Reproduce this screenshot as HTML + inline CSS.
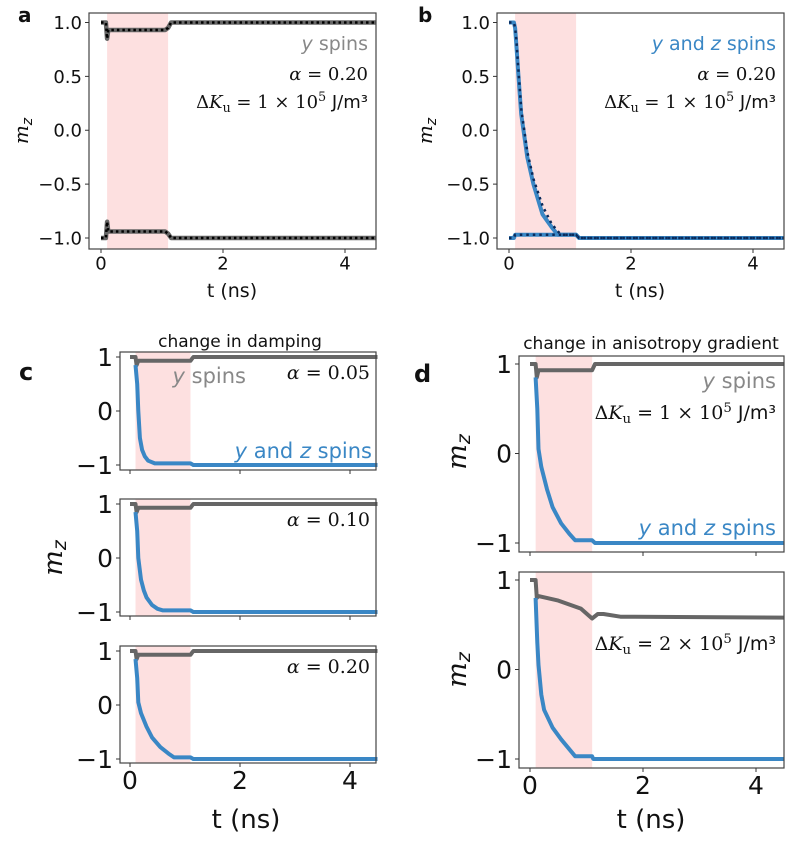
<!DOCTYPE html>
<html><head><meta charset="utf-8"><style>
body{margin:0;background:#fff;}
svg{display:block;}
text{font-family:"DejaVu Sans","Liberation Sans",sans-serif;}
.ser{font-family:"DejaVu Serif","Liberation Serif",serif;}
</style></head><body>
<svg id="fig" width="798" height="845" viewBox="0 0 798 845" xmlns="http://www.w3.org/2000/svg"></svg>
<script>
// ---- data ----
const tYTop = [0,0.08,0.1,0.12,0.15,1.05,1.1,1.15,4.5];
const mYTop = [1,1,0.85,0.93,0.93,0.93,0.95,1,1];
const tYBot = [0,0.08,0.1,0.12,0.15,1.05,1.1,1.15,4.5];
const mYBot = [-1,-1,-0.85,-0.94,-0.94,-0.94,-0.96,-1,-1];
const tBlueB = [0,0.08,0.1,0.12,0.15,0.2,0.3,0.4,0.55,0.7,0.8,1.1,1.15,4.5];
const mBlueB = [1,1,0.95,0.8,0.55,0.15,-0.25,-0.5,-0.78,-0.9,-0.97,-0.97,-1,-1];
const tDotB = [0,0.08,0.1,0.12,0.15,0.2,0.3,0.4,0.55,0.7,0.85,1.1,1.15,4.5];
const mDotB = [1,1,0.95,0.85,0.6,0.2,-0.2,-0.45,-0.7,-0.87,-0.97,-0.97,-1,-1];
const tLowB = [0,0.08,0.1,0.12,1.05,1.1,1.15,4.5];
const mLowB = [-1,-1,-0.97,-0.97,-0.97,-0.97,-1,-1];
const tGrayC = [0,0.1,0.12,0.15,1.05,1.1,1.15,4.5];
const mGrayC = [1,1,0.85,0.93,0.93,0.93,1,1];
const tBlue05 = [0.1,0.13,0.15,0.18,0.22,0.27,0.33,0.45,0.6,1.1,1.15,4.5];
const mBlue05 = [0.85,0.5,0,-0.5,-0.72,-0.84,-0.92,-0.97,-0.97,-0.97,-1,-1];
const tBlue10 = [0.1,0.13,0.15,0.2,0.25,0.3,0.4,0.5,0.6,1.1,1.15,4.5];
const mBlue10 = [0.85,0.5,0,-0.4,-0.6,-0.73,-0.87,-0.94,-0.97,-0.97,-1,-1];
const tBlue20 = [0.1,0.13,0.15,0.2,0.3,0.4,0.55,0.7,0.8,1.1,1.15,4.5];
const mBlue20 = [0.85,0.5,0.05,-0.15,-0.4,-0.6,-0.78,-0.9,-0.97,-0.97,-1,-1];
const tGrayD2 = [0,0.1,0.12,0.15,0.5,0.9,1.1,1.2,1.3,1.6,4.5];
const mGrayD2 = [1,1,0.8,0.82,0.77,0.68,0.57,0.62,0.62,0.59,0.58];
const tBlueD2 = [0.1,0.13,0.15,0.2,0.25,0.4,0.55,0.8,1.1,1.12,4.5];
const mBlueD2 = [0.8,0.3,0.05,-0.28,-0.45,-0.65,-0.78,-0.97,-0.97,-1,-1];
const ticksAB = [1.0,0.5,0.0,-0.5,-1.0];
const tickLabAB = ["1.0","0.5","0.0","\u22120.5","\u22121.0"];
const ticksCD = [1,0,-1];
const tickLabCD = ["1","0","\u22121"];
const xTicks = [0,2,4];

const NS="http://www.w3.org/2000/svg";
const svg=document.getElementById('fig');
function el(tag,attrs,parent){const e=document.createElementNS(NS,tag);for(const k in attrs)e.setAttribute(k,attrs[k]);(parent||svg).appendChild(e);return e;}
function txt(s,attrs,parent){const e=el('text',attrs,parent);e.textContent=s;return e;}

function makeAxes(name,box,x0px,x2px,y1px,ym1px){
  const g=el('g',{});
  
  
  const sx=(x2px-x0px)/2;
  const X=t=>x0px+t*sx;
  const Y=m=>(y1px+ym1px)/2-(m)*(ym1px-y1px)/2;
  return {g,box,X,Y};
}
function shade(ax){
  const r=el('rect',{x:ax.X(0.1),y:ax.box[1],width:ax.X(1.1)-ax.X(0.1),height:ax.box[3]-ax.box[1],fill:'#fde0e0'},ax.g);
  
  
}
function line(ax,ts,ms,style,name){
  const d=ts.map((t,i)=>(i?'L':'M')+ax.X(t).toFixed(1)+','+ax.Y(ms[i]).toFixed(1)).join(' ');
  const p=el('path',Object.assign({d:d,fill:'none','stroke-linejoin':'round'},style),ax.g);
  
  
}
function frame(ax,yt,yl,fs,showXLab,xfs){
  const [l,t,r,b]=ax.box;
  const f=el('rect',{x:l,y:t,width:r-l,height:b-t,fill:'none',stroke:'#444','stroke-width':1.2},ax.g);
  
  
  yt.forEach((v,i)=>{
    const y=ax.Y(v);
    el('line',{x1:l-4,x2:l,y1:y,y2:y,stroke:'#333','stroke-width':1},ax.g);
    const tt=txt(yl[i],{x:l-7,y:y+fs*0.36,'font-size':fs,'text-anchor':'end',fill:'#111'},ax.g);
    
    
  });
  xTicks.forEach(v=>{
    const x=ax.X(v);
    el('line',{x1:x,x2:x,y1:b,y2:b+4,stroke:'#333','stroke-width':1},ax.g);
    if(showXLab){
      const tt=txt(String(v),{x:x,y:b+6+xfs*0.8,'font-size':xfs,'text-anchor':'middle',fill:'#111'},ax.g);
      
      
    }
  });
}
function label(s,x,y,fs,extra,name){
  const t=txt(s,Object.assign({x:x,y:y,'font-size':fs,fill:'#111'},extra||{}));
  
  
  return t;
}
function mz(x,y,fs){
  const t=el('text',{transform:`translate(${x},${y}) rotate(-90)`,'font-size':fs,'text-anchor':'middle',fill:'#111'});
  
  
  t.innerHTML='<tspan font-style="italic" class="ser">m</tspan><tspan font-style="italic" font-size="'+(fs*0.7)+'" dy="4">z</tspan>';
}
function ann(s,x,y,fs,color,name){
  const t=el('text',{x:x,y:y,'font-size':fs,'text-anchor':'end',fill:color});
  
  
  t.innerHTML=s;
}
const DK1='<tspan class="ser">\u0394</tspan><tspan class="ser" font-style="italic">K</tspan><tspan class="ser" font-size="70%" dy="4">u</tspan><tspan class="ser" dy="-4"> = 1 \u00d7 10</tspan><tspan class="ser" font-size="70%" dy="-7">5</tspan><tspan dy="7"> J/m\u00b3</tspan>';
const DK2=DK1.replace('= 1','= 2');
const GRAY='#666', BLUE='#3a87c5';
const alpha=v=>'<tspan class="ser" font-style="italic">\u03b1</tspan><tspan class="ser"> = '+v+'</tspan>';
const yspins='<tspan font-style="italic">y</tspan> spins';
const yzspins='<tspan font-style="italic">y</tspan> and <tspan font-style="italic">z</tspan> spins';

// Panel a
let A=makeAxes('panel-a',[89,13,376,249],101,223,22.5,238);
shade(A);
line(A,tYTop,mYTop,{stroke:GRAY,'stroke-width':4.5},'y-spins-top-line');
line(A,tYBot,mYBot,{stroke:GRAY,'stroke-width':4.5},'y-spins-bottom-line');
line(A,tYTop,mYTop,{stroke:'#000','stroke-width':2.5,'stroke-dasharray':'2.5 3'},'y-spins-top-dotted');
line(A,tYBot,mYBot,{stroke:'#000','stroke-width':2.5,'stroke-dasharray':'2.5 3'},'y-spins-bottom-dotted');
frame(A,ticksAB,tickLabAB,18,true,18);
ann(yspins,368,50,19,'#888','annotation-y-spins');
ann(alpha('0.20'),368,80,18,'#111','annotation-alpha');
ann(DK1,368,108,18,'#111','annotation-dku');
label('a',18,22,20,{'font-weight':'bold'},'panel-label-a');
mz(28,131,20);
label('t (ns)',232,297,19,{'text-anchor':'middle'},'x-axis-title');

// Panel b
let B=makeAxes('panel-b',[497,13,784,249],509,631,22.5,238);
shade(B);
line(B,tBlueB,mBlueB,{stroke:BLUE,'stroke-width':4},'yz-spins-line');
line(B,tLowB,mLowB,{stroke:BLUE,'stroke-width':4},'yz-spins-lower-line');
line(B,tDotB,mDotB,{stroke:'#0b2a5a','stroke-width':2.5,'stroke-dasharray':'2.5 4'},'yz-spins-dotted');
line(B,tLowB,mLowB,{stroke:'#0b2a5a','stroke-width':2.5,'stroke-dasharray':'2.5 4'},'yz-spins-lower-dotted');
frame(B,ticksAB,tickLabAB,18,true,18);
ann(yzspins,776,50,19,BLUE,'annotation-yz-spins');
ann(alpha('0.20'),776,80,18,'#111','annotation-alpha');
ann(DK1,776,108,18,'#111','annotation-dku');
label('b',418,22,20,{'font-weight':'bold'},'panel-label-b');
mz(432,131,20);
label('t (ns)',640,297,19,{'text-anchor':'middle'},'x-axis-title');

// Panel c
const cRows=[[352,470,357,465,tBlue05,mBlue05,'0.05'],[499,616,504,612,tBlue10,mBlue10,'0.10'],[646,763,651,759,tBlue20,mBlue20,'0.20']];
cRows.forEach((r,i)=>{
  const C=makeAxes('panel-c-'+(i+1),[120,r[0],376,r[1]],130,240,r[2],r[3]);
  shade(C);
  line(C,tGrayC,mGrayC,{stroke:GRAY,'stroke-width':4},'y-spins-line');
  line(C,r[4],r[5],{stroke:BLUE,'stroke-width':4},'yz-spins-line');
  frame(C,ticksCD,tickLabCD,25,i===2,25);
  ann(alpha(r[6]),370,r[0]+27,19,'#111','annotation-alpha');
});
ann(yspins,246,383,21,'#888','annotation-y-spins');
ann(yzspins,372,458,21,BLUE,'annotation-yz-spins');
label('change in damping',240,347,17,{'text-anchor':'middle'},'panel-c-title');
label('c',19,380,24,{'font-weight':'bold'},'panel-label-c');
mz(62,558,27);
label('t (ns)',246,828,26,{'text-anchor':'middle'},'x-axis-title');

// Panel d
const D1=makeAxes('panel-d-1',[519,356,784,552],530,643,364,543);
shade(D1);
line(D1,tGrayC,mGrayC,{stroke:GRAY,'stroke-width':4},'y-spins-line');
line(D1,tBlue20,mBlue20,{stroke:BLUE,'stroke-width':4},'yz-spins-line');
frame(D1,ticksCD,tickLabCD,25,false,25);
ann(yspins,776,388,21,'#888','annotation-y-spins');
ann(DK1,776,419,19,'#111','annotation-dku');
ann(yzspins,776,535,21,BLUE,'annotation-yz-spins');
const D2=makeAxes('panel-d-2',[519,572,784,768],530,643,580,759);
shade(D2);
line(D2,tGrayD2,mGrayD2,{stroke:GRAY,'stroke-width':4},'y-spins-line');
line(D2,tBlueD2,mBlueD2,{stroke:BLUE,'stroke-width':4},'yz-spins-line');
frame(D2,ticksCD,tickLabCD,25,true,25);
ann(DK2,776,650,19,'#111','annotation-dku');
label('change in anisotropy gradient',651,349,17,{'text-anchor':'middle'},'panel-d-title');
label('d',414,382,24,{'font-weight':'bold'},'panel-label-d');
mz(466,452,27);
mz(466,670,27);
label('t (ns)',651,828,26,{'text-anchor':'middle'},'x-axis-title');
</script>
</body></html>
